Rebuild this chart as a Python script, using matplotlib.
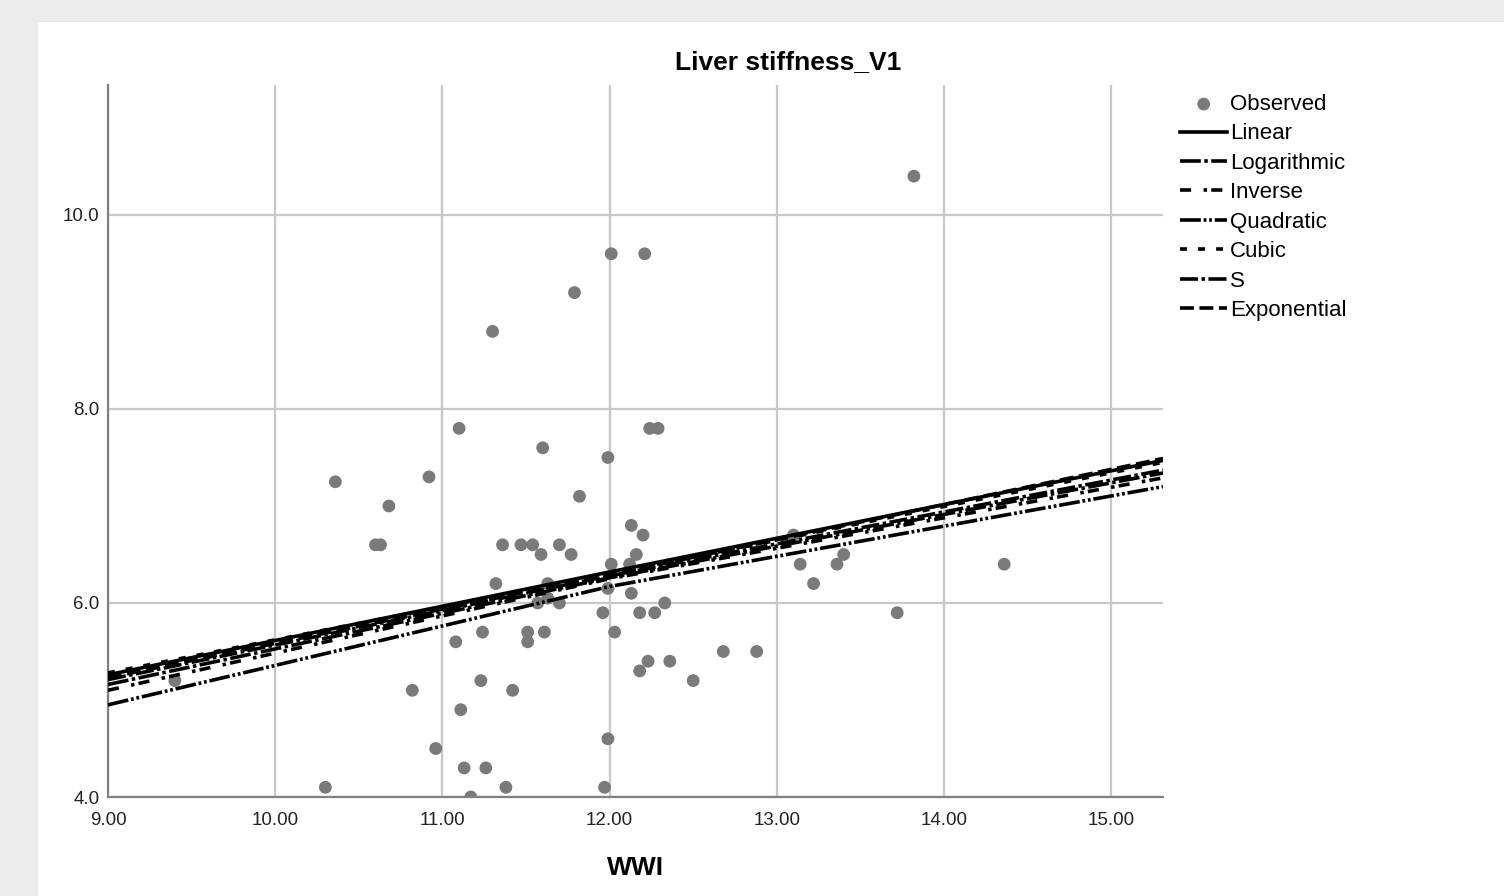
# Curve estimation plot: Liver stiffness_V1 vs WWI
import matplotlib
matplotlib.use("Agg")
import matplotlib.pyplot as plt
from matplotlib.patches import Rectangle

plt.rcParams['font.family'] = ['Liberation Sans', 'DejaVu Sans']
plt.rcParams['lines.scale_dashes'] = False

# observed points (WWI, liver stiffness)
obs_x = [13.82, 12.01, 12.21, 11.79, 11.30, 11.10, 12.24, 12.29, 11.60, 11.99,
         10.36, 10.92, 10.68, 11.82, 12.13, 12.20, 13.10, 10.60, 10.63, 11.36,
         11.47, 11.54, 11.70, 11.59, 11.77, 12.16, 12.12, 12.01, 13.14, 13.36,
         13.40, 14.36, 11.32, 11.63, 13.22, 12.13, 11.99, 11.63, 11.57, 11.70,
         12.33, 11.96, 12.18, 12.27, 13.72, 11.24, 11.51, 11.61, 12.03, 11.08,
         11.51, 12.68, 12.88, 12.23, 12.36, 12.18, 12.50, 11.23, 9.40, 10.82,
         11.42, 11.11, 10.96, 11.99, 11.13, 11.26, 10.30, 11.38, 11.97, 11.17]
obs_y = [10.4, 9.6, 9.6, 9.2, 8.8, 7.8, 7.8, 7.8, 7.6, 7.5,
         7.25, 7.3, 7.0, 7.1, 6.8, 6.7, 6.7, 6.6, 6.6, 6.6,
         6.6, 6.6, 6.6, 6.5, 6.5, 6.5, 6.4, 6.4, 6.4, 6.4,
         6.5, 6.4, 6.2, 6.2, 6.2, 6.1, 6.15, 6.05, 6.0, 6.0,
         6.0, 5.9, 5.9, 5.9, 5.9, 5.7, 5.7, 5.7, 5.7, 5.6,
         5.6, 5.5, 5.5, 5.4, 5.4, 5.3, 5.2, 5.2, 5.2, 5.1,
         5.1, 4.9, 4.5, 4.6, 4.3, 4.3, 4.1, 4.1, 4.1, 4.0]

# fitted curves, values at these WWI positions
curve_x = [9.0, 12.0, 15.31]
models = ['Linear', 'Logarithmic', 'Inverse', 'Quadratic', 'Cubic', 'S', 'Exponential']
linear_y = [5.26, 6.32, 7.47]
log_y = [5.16, 6.26, 7.34]
inverse_y = [5.10, 6.25, 7.29]
quadratic_y = [4.95, 6.17, 7.20]
cubic_y = [5.28, 6.30, 7.45]
s_y = [5.21, 6.28, 7.37]
exponential_y = [5.23, 6.29, 7.49]

styles = {
    'Linear': '-',
    'Logarithmic': (0, (15, 2.5, 2.5, 2.5)),
    'Inverse': (0, (8, 9, 2.5, 3)),
    'Quadratic': (0, (15, 2, 2, 2, 2, 2)),
    'Cubic': (0, (5, 8)),
    'S': (0, (13, 2.5, 2.5, 2.5)),
    'Exponential': (0, (10, 4)),
}
curve_vals = [linear_y, log_y, inverse_y, quadratic_y, cubic_y, s_y, exponential_y]

fig = plt.figure(figsize=(15.04, 8.96), dpi=100)
fig.patch.set_facecolor('#ebebeb')
fig.patches.append(Rectangle((38 / 1504, 0), 1, 1 - 22 / 896, transform=fig.transFigure,
                             facecolor='white', edgecolor='none', zorder=-10))

ax = fig.add_axes([108 / 1504, 1 - 797 / 896, (1163 - 108) / 1504, (797 - 85) / 896])
ax.set_facecolor('white')

ax.scatter(obs_x, obs_y, s=85, color='#7a7a7a', edgecolors='none', zorder=2, label='Observed')
for name, vals in zip(models, curve_vals):
    ax.plot(curve_x, vals, color='black', lw=2.6, linestyle=styles[name],
            zorder=3, label=name)

ax.set_xlim(9.0, 15.31)
ax.set_ylim(4.0, 11.34)
ax.set_xticks([9, 10, 11, 12, 13, 14, 15])
ax.set_xticklabels(['9.00', '10.00', '11.00', '12.00', '13.00', '14.00', '15.00'])
ax.set_yticks([4, 6, 8, 10])
ax.set_yticklabels(['4.0', '6.0', '8.0', '10.0'])
ax.tick_params(length=0, labelsize=13.5, colors='#222222')
ax.tick_params(axis='x', pad=11)
ax.tick_params(axis='y', pad=6)
ax.grid(True, color='#c8c8c8', lw=1.6)
ax.set_axisbelow(True)
for side in ['top', 'right']:
    ax.spines[side].set_visible(False)
for side in ['left', 'bottom']:
    ax.spines[side].set_color('#808080')
    ax.spines[side].set_linewidth(1.6)

ax.set_xlabel('WWI', fontsize=19, fontweight='bold', labelpad=19)
fig.text(788 / 1504, 1 - 62 / 896, 'Liver stiffness_V1', fontsize=19,
         fontweight='bold', ha='center', va='center')

leg = ax.legend(loc='upper left', bbox_to_anchor=(1.008, 1.0), frameon=False,
                fontsize=16, handlelength=2.1, handletextpad=0.15,
                labelspacing=0.38, borderaxespad=0.0)

plt.savefig('out.png', dpi=100, facecolor=fig.get_facecolor())
